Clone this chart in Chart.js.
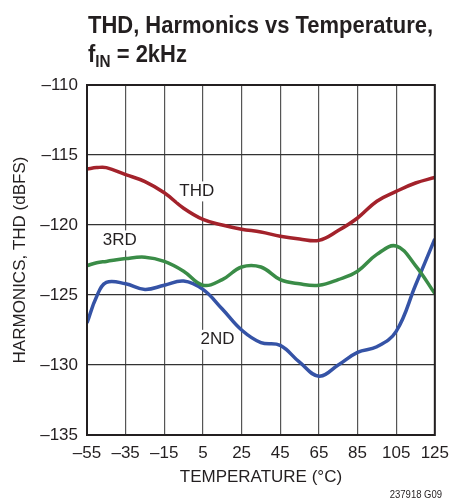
<!DOCTYPE html>
<html>
<head>
<meta charset="utf-8">
<script src="https://cdn.jsdelivr.net/npm/chart.js@4"></script>
<style>
body{margin:0;background:#fff;}
#wrap{position:relative;width:457px;height:504px;font-family:"Liberation Sans Narrow","Arial Narrow",sans-serif;color:#231f20;}
#title{position:absolute;left:88px;top:11px;font-weight:bold;font-size:23px;line-height:29px;white-space:nowrap;transform:scaleX(0.955);transform-origin:left top;}
#title .sub{font-size:16px;position:relative;top:5px;}
#note{position:absolute;right:15px;top:489px;font-size:10px;transform:scaleX(0.95);transform-origin:right top;}
</style>
</head>
<body>
<div id="wrap">
  <canvas id="chart" width="457" height="504"></canvas>
  <div id="title">THD, Harmonics vs Temperature,<br>f<span class="sub">IN</span> = 2kHz</div>
  <div id="note">237918 G09</div>
</div>
<script>
// ── DATA ─────────────────────────────────────────────────
const xTicks = [-55,-35,-15,5,25,45,65,85,105,125];
const temps  = [-55,-50,-45,-35,-25,-15,-5,5,15,25,35,45,55,65,75,85,95,105,115,125];
const thd    = [-116.0,-115.9,-115.9,-116.4,-116.9,-117.7,-118.8,-119.6,-120.0,-120.3,-120.5,-120.8,-121.0,-121.1,-120.4,-119.5,-118.3,-117.6,-117.0,-116.6];
const third  = [-122.9,-122.7,-122.6,-122.4,-122.3,-122.6,-123.3,-124.3,-123.9,-123.0,-123.0,-123.9,-124.2,-124.3,-123.9,-123.3,-122.1,-121.5,-122.9,-124.9];
const second = [-127.0,-125.1,-124.1,-124.2,-124.6,-124.3,-124.0,-124.6,-126.0,-127.5,-128.4,-128.6,-129.8,-130.8,-130.0,-129.1,-128.7,-127.6,-124.3,-121.0];

// curve labels (data coords)
const curveLabels = [
    {text:'THD', x:1.8,   y:-117.6},
    {text:'3RD', x:-38,   y:-121.1},
    {text:'2ND', x:12.5,  y:-128.2}
];

const FONT = '"Liberation Sans Narrow","Arial Narrow",sans-serif';
const dash = v => String(v).replace('-','\u2013');
const pts = arr => temps.map((t,i)=>({x:t,y:arr[i]}));

// ── PLUGINS ──────────────────────────────────────────────
const frame = {
    id:'frame',
    afterDraw(c){
        const {ctx,chartArea:a} = c;
        ctx.save();
        ctx.strokeStyle='#231f20';ctx.lineWidth=2;
        ctx.strokeRect(a.left,a.top,a.right-a.left,a.bottom-a.top);
        ctx.restore();
    }
};
const labels = {
    id:'labels',
    afterDatasetsDraw(c){
        const {ctx,scales:{x,y}} = c;
        ctx.save();
        ctx.font = '17px '+FONT;
        ctx.textAlign='center';ctx.textBaseline='middle';
        curveLabels.forEach(l=>{
            const px=x.getPixelForValue(l.x), py=y.getPixelForValue(l.y);
            const w=ctx.measureText(l.text).width;
            ctx.fillStyle='#fff';ctx.fillRect(px-w/2-2,py-10,w+4,20);
            ctx.fillStyle='#231f20';ctx.fillText(l.text,px,py);
        });
        ctx.restore();
    }
};

// ── CHART ────────────────────────────────────────────────
const line = (label,data,color)=>({label,data:pts(data),borderColor:color,borderWidth:3.5,pointRadius:0,tension:0.4,fill:false});

new Chart(document.getElementById('chart'),{
    type:'line',
    data:{datasets:[
        line('THD',thd,'#a3222b'),
        line('3RD',third,'#3a8c47'),
        line('2ND',second,'#3553a6')
    ]},
    options:{
        responsive:false,animation:false,
        layout:{padding:{left:0,top:85,right:18,bottom:0}},
        plugins:{legend:{display:false},tooltip:{enabled:false}},
        scales:{
            x:{
                type:'linear',min:-55,max:125,
                afterBuildTicks:s=>{s.ticks=xTicks.map(v=>({value:v}));},
                afterFit:s=>{s.height=69;},
                grid:{color:'#555',lineWidth:1.2,drawTicks:false},
                border:{display:false},
                ticks:{color:'#231f20',padding:8,font:{family:FONT,size:17},callback:v=>dash(v),maxRotation:0,autoSkip:false},
                title:{display:true,text:'TEMPERATURE (°C)',color:'#231f20',font:{family:FONT,size:17},padding:{top:0,bottom:16}}
            },
            y:{
                min:-135,max:-110,
                afterFit:s=>{s.width=87;},
                grid:{color:'#333',lineWidth:1.2,drawTicks:false},
                border:{display:false},
                ticks:{stepSize:5,color:'#231f20',padding:9,font:{family:FONT,size:17},callback:v=>dash(v)},
                title:{display:true,text:'HARMONICS, THD (dBFS)',color:'#231f20',font:{family:FONT,size:17},padding:{top:10,bottom:0}}
            }
        }
    },
    plugins:[frame,labels]
});
</script>
</body>
</html>
